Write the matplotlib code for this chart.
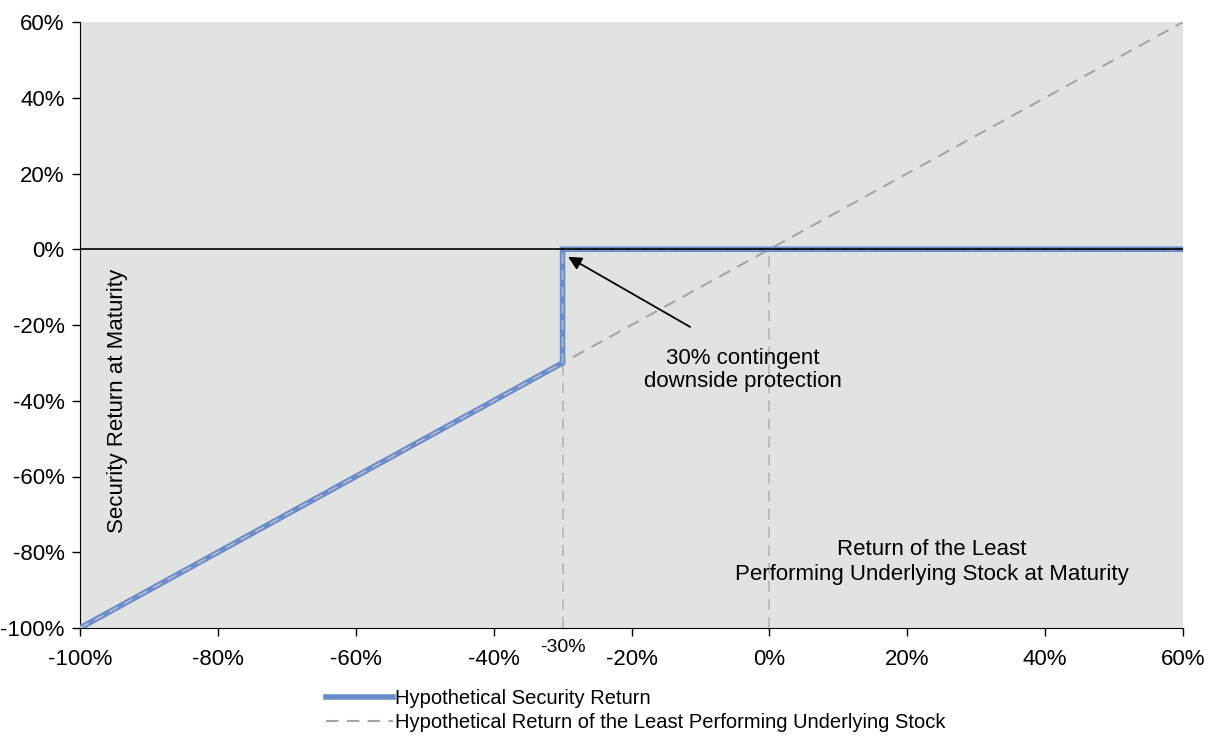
import matplotlib
matplotlib.use("Agg")
import matplotlib.pyplot as plt
from matplotlib.ticker import FuncFormatter

plt.rcParams['font.family'] = ['Liberation Sans', 'DejaVu Sans']

# Data (percent)
underlying_x = [-100, 60]
underlying_y = [-100, 60]
security_x = [-100, -30, -30, 60]
security_y = [-100, -30, 0, 0]
barrier = -30
x_ticks = [-100, -80, -60, -40, -20, 0, 20, 40, 60]
y_ticks = [-100, -80, -60, -40, -20, 0, 20, 40, 60]

fig = plt.figure(figsize=(12.12, 7.36), dpi=100)
ax = fig.add_axes([80/1212, 1-628/736, (1183-80)/1212, (628-22)/736])
ax.set_facecolor('#e1e2e2')

ax.set_xlim(-100, 60)
ax.set_ylim(-100, 60)

grey = '#a6a6a6'
blue = '#6b8cca'

# vertical reference lines
ax.plot([barrier, barrier], [-100, barrier], color='#b8b8b8', lw=1.3, ls=(0, (6, 4)), zorder=2)
ax.plot([0, 0], [-100, 0], color='#b8b8b8', lw=1.3, ls=(0, (6, 4)), zorder=2)

# underlying
l2, = ax.plot(underlying_x, underlying_y, color=grey, lw=1.5, ls=(0, (6, 4)), zorder=3,
              label='Hypothetical Return of the Least Performing Underlying Stock')
# security
l1, = ax.plot(security_x, security_y, color=blue, lw=4, zorder=4, solid_joinstyle='miter',
              label='Hypothetical Security Return')
ax.plot(security_x, security_y, color='#b5bdcc', lw=1.2, ls=(0, (6, 4)), zorder=5)
ax.axhline(0, color='black', lw=1.2, zorder=6)

for s in ['top', 'right']:
    ax.spines[s].set_visible(False)
ax.spines['left'].set_color('black')
ax.spines['bottom'].set_color('black')
ax.set_xticks(x_ticks)
ax.set_yticks(y_ticks)
fmt = FuncFormatter(lambda v, p: f"{v:.0f}%")
ax.xaxis.set_major_formatter(fmt)
ax.yaxis.set_major_formatter(fmt)
ax.tick_params(direction='out', length=6, width=1, labelsize=16)
ax.tick_params(axis='x', pad=9)
ax.tick_params(axis='y', pad=5)

ax.text(-94.6, -40, 'Security Return at Maturity', rotation=90, ha='center', va='center', fontsize=16)
ax.text(23.6, -82.6, 'Return of the Least\nPerforming Underlying Stock at Maturity',
        ha='center', va='center', fontsize=16, linespacing=1.2)
ax.text(-3.8, -31.9, '30% contingent\ndownside protection',
        ha='center', va='center', fontsize=16, linespacing=1.15)
ax.annotate('', xy=(-29.2, -2.0), xytext=(-11.5, -20.5),
            arrowprops=dict(arrowstyle='-|>', color='black', lw=1.3, mutation_scale=20,
                            shrinkA=0, shrinkB=0))
ax.text(barrier, -103.0, f"{barrier}%", ha='center', va='top', fontsize=14)

fig.legend(handles=[l1, l2], loc='upper left', bbox_to_anchor=(318/1212, 1-681/736),
           frameon=False, fontsize=14.5, handlelength=3.3, handletextpad=0.12,
           labelspacing=0.25, borderaxespad=0)

fig.savefig('out.png', dpi=100)
